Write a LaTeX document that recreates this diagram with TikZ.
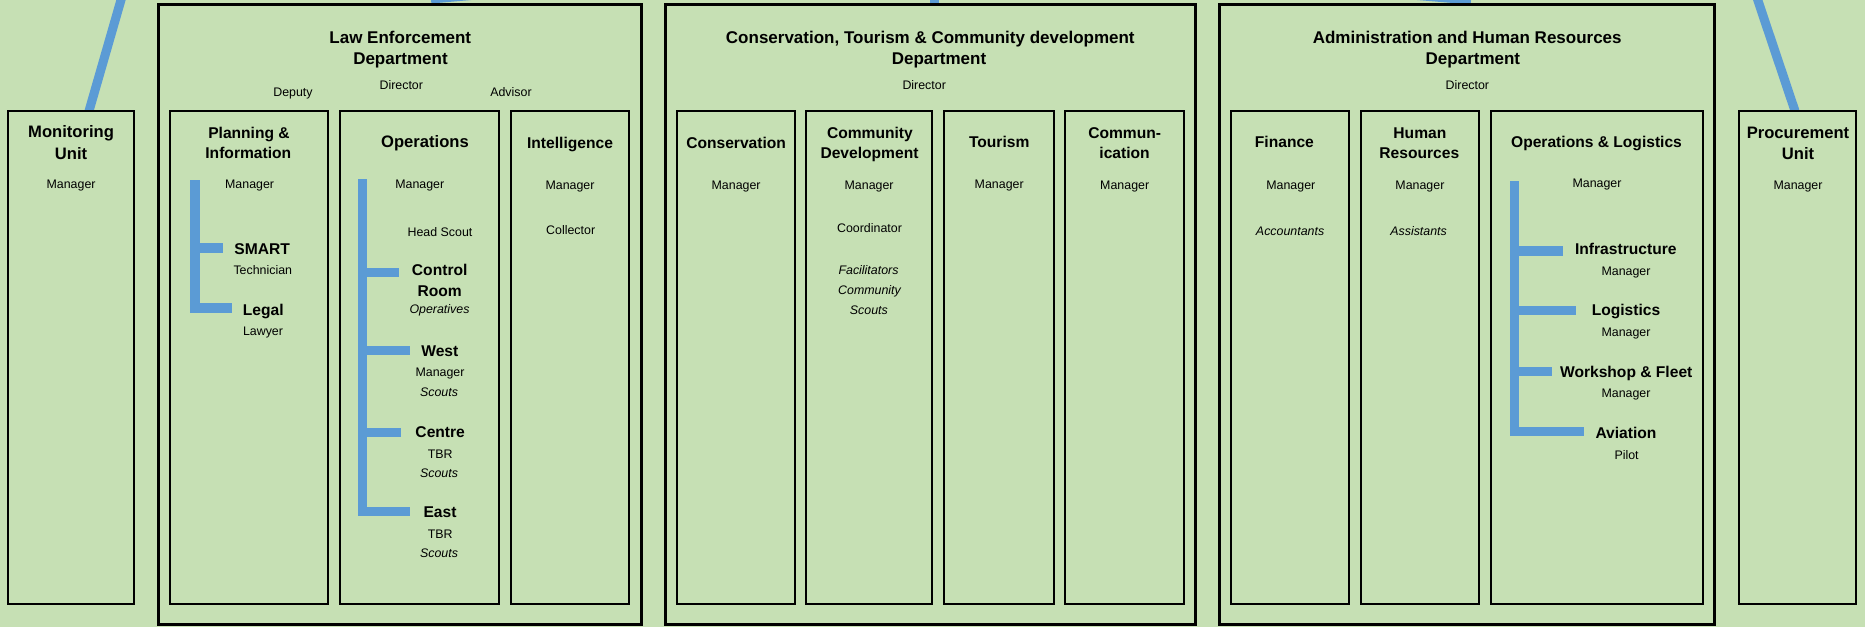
\documentclass[tikz,border=0pt]{standalone}
\usepackage{fontspec}
\setmainfont{Liberation Sans}
\definecolor{bg}{HTML}{C6E0B4}
\definecolor{linkblue}{HTML}{5B9BD5}
\begin{document}
\begin{tikzpicture}[x=1pt,y=-1pt,
  dept/.style={draw=black, line width=3pt, fill=bg, inner sep=0pt, outer sep=0pt, minimum height=619.4pt},
  unit/.style={draw=black, line width=2pt, fill=bg, inner sep=0pt, outer sep=0pt, minimum height=493pt},
  link/.style={draw=linkblue, line width=9pt, line cap=butt},
  tree/.style={draw=linkblue, line width=9.5pt, line join=miter, line cap=butt},
  ttl/.style={font=\bfseries\fontsize{17}{20}\selectfont, inner sep=0pt, text height=12.2pt, text depth=0pt},
  hdl/.style={font=\bfseries\fontsize{16.6}{20}\selectfont, inner sep=0pt, text height=11.9pt, text depth=0pt},
  hd/.style={font=\bfseries\fontsize{15.6}{19}\selectfont, inner sep=0pt, text height=11.2pt, text depth=0pt},
  sm/.style={font=\fontsize{12.4}{15}\selectfont, inner sep=0pt, text height=8.9pt, text depth=0pt},
  smi/.style={font=\itshape\fontsize{12.4}{15}\selectfont, inner sep=0pt, text height=8.9pt, text depth=0pt}]

\useasboundingbox (0,0) rectangle (1865,627);
\fill[bg] (0,0) rectangle (1865,627);
\clip (0,0) rectangle (1865,627);

% ---- reporting lines from the units above ----
\coordinate (hub) at (934,-45);
\coordinate (mon-up) at (132.5,-40);
\coordinate (pro-up) at (1744.3,-40);
\coordinate (mon-in) at (89,111);
\coordinate (le-in) at (431,-1);
\coordinate (ct-in) at (934,4.6);
\coordinate (ad-in) at (1471,0);
\coordinate (pro-in) at (1795,111);

\draw[link] (mon-up) -- (mon-in);
\draw[link] (hub) -- (le-in);
\draw[link] (hub) -- (ct-in);
\draw[link] (hub) -- (ad-in);
\draw[link] (pro-up) -- (pro-in);

% ---- department frames ----
\node[dept, minimum width=483.1pt] (le) at (400.25,314.3) {};
\node[dept, minimum width=530pt] (ct) at (930,314.3) {};
\node[dept, minimum width=495pt] (ad) at (1466.5,314.3) {};

% ---- unit boxes ----
\node[unit, minimum width=125.4pt] (mon) at (71.1,357.5) {};
\node[unit, minimum width=157.9pt] (pl) at (248.95,357.5) {};
\node[unit, minimum width=159.1pt] (op) at (419.15,357.5) {};
\node[unit, minimum width=118pt] (in) at (570,357.5) {};
\node[unit, minimum width=118pt] (cv) at (736,357.5) {};
\node[unit, minimum width=126pt] (cd) at (869,357.5) {};
\node[unit, minimum width=110pt] (to) at (999,357.5) {};
\node[unit, minimum width=119pt] (cm) at (1124.5,357.5) {};
\node[unit, minimum width=118pt] (fi) at (1290,357.5) {};
\node[unit, minimum width=118pt] (hr) at (1420,357.5) {};
\node[unit, minimum width=212pt] (ol) at (1597,357.5) {};
\node[unit, minimum width=117pt] (pro) at (1797.5,357.5) {};

% ---- Law Enforcement ----
\node[ttl] (le-t1) at (400.3,37) {Law Enforcement};
\node[ttl] (le-t2) at (400.5,58.8) {Department};
\node[sm] (le-dep) at (293,91.7) {Deputy};
\node[sm] (le-dir) at (401.3,85.5) {Director};
\node[sm] (le-adv) at (511,91.7) {Advisor};

\node[hdl] (mon-h1) at (71.1,132) {Monitoring};
\node[hdl] (mon-h2) at (71.1,154) {Unit};
\node[sm] (mon-m) at (71.1,184) {Manager};

\node[hd] (pl-h1) at (249,132.8) {Planning \&};
\node[hd] (pl-h2) at (248.3,152.7) {Information};
\node[sm] (pl-m) at (249.6,184) {Manager};
\node[hd] (pl-smart) at (262.2,249) {SMART};
\node[sm] (pl-tech) at (262.8,270) {Technician};
\node[hd] (pl-legal) at (263.3,309.5) {Legal};
\node[sm] (pl-law) at (263,331) {Lawyer};

\node[hdl] (op-h) at (425,142) {Operations};
\node[sm] (op-m) at (419.8,184) {Manager};
\node[sm] (op-hs) at (440,231.7) {Head Scout};
\node[hd] (op-cr1) at (439.7,269.7) {Control};
\node[hd] (op-cr2) at (439.7,290.5) {Room};
\node[smi] (op-cr3) at (439.5,308.8) {Operatives};
\node[hd] (op-we1) at (439.8,351.2) {West};
\node[sm] (op-we2) at (440,372.2) {Manager};
\node[smi] (op-we3) at (439,392.3) {Scouts};
\node[hd] (op-ce1) at (440.2,432.3) {Centre};
\node[sm] (op-ce2) at (440.2,454.3) {TBR};
\node[smi] (op-ce3) at (439,473.3) {Scouts};
\node[hd] (op-ea1) at (440,512.3) {East};
\node[sm] (op-ea2) at (440.2,534.3) {TBR};
\node[smi] (op-ea3) at (439,553.3) {Scouts};

\node[hd] (in-h) at (570,142.5) {Intelligence};
\node[sm] (in-m) at (570,184.7) {Manager};
\node[sm] (in-c) at (570.7,229.7) {Collector};

% ---- Conservation, Tourism & Community development ----
\node[ttl] (ct-t1) at (930.3,37) {Conservation, Tourism \& Community development};
\node[ttl] (ct-t2) at (939,58.8) {Department};
\node[sm] (ct-dir) at (924.2,85.5) {Director};

\node[hd] (cv-h) at (736.1,142.5) {Conservation};
\node[sm] (cv-m) at (736.1,184.7) {Manager};

\node[hd] (cd-h1) at (869.9,132.8) {Community};
\node[hd] (cd-h2) at (869.5,152.8) {Development};
\node[sm] (cd-m) at (869.1,184.7) {Manager};
\node[sm] (cd-co) at (869.5,227.7) {Coordinator};
\node[smi] (cd-f1) at (868.5,270) {Facilitators};
\node[smi] (cd-f2) at (869.5,290.3) {Community};
\node[smi] (cd-f3) at (868.9,310.3) {Scouts};

\node[hd] (to-h) at (999.2,141.5) {Tourism};
\node[sm] (to-m) at (999.2,183.7) {Manager};

\node[hd] (cm-h1) at (1124.7,132.8) {Commun-};
\node[hd] (cm-h2) at (1124.6,152.8) {ication};
\node[sm] (cm-m) at (1124.7,184.7) {Manager};

% ---- Administration and Human Resources ----
\node[ttl] (ad-t1) at (1467.2,37) {Administration and Human Resources};
\node[ttl] (ad-t2) at (1472.9,58.8) {Department};
\node[sm] (ad-dir) at (1467.4,85.5) {Director};

\node[hd] (fi-h) at (1284.4,141.5) {Finance};
\node[sm] (fi-m) at (1290.8,184.7) {Manager};
\node[smi] (fi-a) at (1290.1,230.7) {Accountants};

\node[hd] (hr-h1) at (1419.9,132.8) {Human};
\node[hd] (hr-h2) at (1419.3,152.8) {Resources};
\node[sm] (hr-m) at (1419.9,184.7) {Manager};
\node[smi] (hr-a) at (1418.6,230.7) {Assistants};

\node[hd] (ol-h) at (1596.5,141.7) {Operations \& Logistics};
\node[sm] (ol-m) at (1597,183.5) {Manager};
\node[hd] (ol-in1) at (1625.8,249.3) {Infrastructure};
\node[sm] (ol-in2) at (1626,271) {Manager};
\node[hd] (ol-lo1) at (1626,310) {Logistics};
\node[sm] (ol-lo2) at (1626,332.5) {Manager};
\node[hd] (ol-wf1) at (1626.2,371.7) {Workshop \& Fleet};
\node[sm] (ol-wf2) at (1626,393.5) {Manager};
\node[hd] (ol-av1) at (1626,432.5) {Aviation};
\node[sm] (ol-av2) at (1626.6,455) {Pilot};

\node[hdl] (pro-h1) at (1798,132.2) {Procurement};
\node[hdl] (pro-h2) at (1798,154) {Unit};
\node[sm] (pro-m) at (1798,184.7) {Manager};

% ---- internal reporting brackets ----
\coordinate (pl-top) at (195,180);
\coordinate (pl-j1) at (195,248);
\coordinate (pl-b1) at (223,248);
\coordinate (pl-b2) at (232,308);
\draw[tree] (pl-top) |- (pl-b2);
\draw[tree] (pl-j1) -- (pl-b1);

\coordinate (op-top) at (362.4,179.3);
\coordinate (op-j1) at (362.4,272.3);
\coordinate (op-b1) at (398.7,272.3);
\coordinate (op-j2) at (362.4,350.3);
\coordinate (op-b2) at (409.5,350.3);
\coordinate (op-j3) at (362.4,432.5);
\coordinate (op-b3) at (400.7,432.5);
\coordinate (op-b4) at (409.5,511.3);
\draw[tree] (op-top) |- (op-b4);
\draw[tree] (op-j1) -- (op-b1);
\draw[tree] (op-j2) -- (op-b2);
\draw[tree] (op-j3) -- (op-b3);

\coordinate (ol-top) at (1514.7,181);
\coordinate (ol-j1) at (1514.7,251);
\coordinate (ol-b1) at (1563,251);
\coordinate (ol-j2) at (1514.7,310.5);
\coordinate (ol-b2) at (1576.3,310.5);
\coordinate (ol-j3) at (1514.7,371.7);
\coordinate (ol-b3) at (1551.6,371.7);
\coordinate (ol-b4) at (1583.8,431.7);
\draw[tree] (ol-top) |- (ol-b4);
\draw[tree] (ol-j1) -- (ol-b1);
\draw[tree] (ol-j2) -- (ol-b2);
\draw[tree] (ol-j3) -- (ol-b3);
\end{tikzpicture}
\end{document}
